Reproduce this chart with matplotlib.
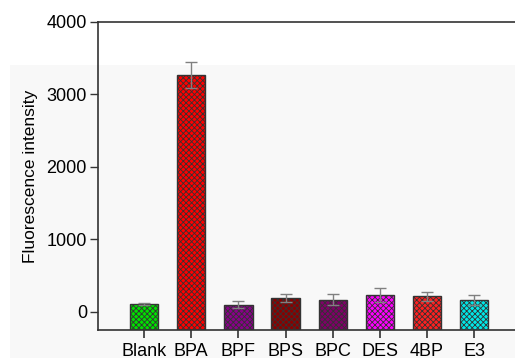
# Bar chart of fluorescence intensity per compound, with error bars and hatching.

import numpy as np
import matplotlib.pyplot as plt
from matplotlib.patches import Rectangle

plt.rcParams['font.family'] = ['Liberation Sans', 'DejaVu Sans']
plt.rcParams['hatch.linewidth'] = 0.6

categories = ['Blank', 'BPA', 'BPF', 'BPS', 'BPC', 'DES', '4BP', 'E3']
values = [110, 3270, 97, 193, 170, 230, 216, 161]
errors = [10, 175, 50, 50, 70, 97, 60, 69]
colors = ['#00e000', '#ff0000', '#8a008a', '#8a0000', '#800068', '#ff00ff', '#ff2020', '#00e8e8']
yticks = [0, 1000, 2000, 3000, 4000]
ymin = -250  # bars start at the axis floor, as in the original

fig = plt.figure(figsize=(5.15, 3.58), dpi=100)
# light gray panel behind the plot, like the original export
bg = Rectangle((10 / 515, 0), 1, 1 - 65 / 358, transform=fig.transFigure,
               facecolor='#f8f8f8', edgecolor='none', zorder=-10)
fig.add_artist(bg)

ax = fig.add_axes([98 / 515, 1 - 330 / 358, 1 - 98 / 515, 308 / 358])
ax.patch.set_alpha(0)

x = np.arange(len(categories))
ax.bar(x, np.array(values) - ymin, bottom=ymin, width=0.6, color=colors,
       edgecolor='#333333', linewidth=1.0, hatch='xxxxxx', zorder=2)
ax.errorbar(x, values, yerr=errors, fmt='none', ecolor='#808080', elinewidth=1.0,
            capsize=4, capthick=1.0, zorder=3)

ax.set_xlim(-0.98, 7.87)
ax.set_ylim(ymin, 4000)
ax.set_yticks(yticks)
ax.set_xticks(x)
ax.set_xticklabels(categories, fontsize=13)
ax.tick_params(axis='y', labelsize=13, length=6, width=1, color='#333333', pad=2)
ax.tick_params(axis='x', length=6, width=1.2, color='#333333', pad=3)
ax.set_ylabel('Fluorescence intensity', fontsize=12.5, labelpad=6)

for side in ['left', 'top', 'bottom']:
    ax.spines[side].set_color('#333333')
    ax.spines[side].set_linewidth(1.2)
ax.spines['right'].set_visible(False)

fig.savefig('out.png', dpi=100)
